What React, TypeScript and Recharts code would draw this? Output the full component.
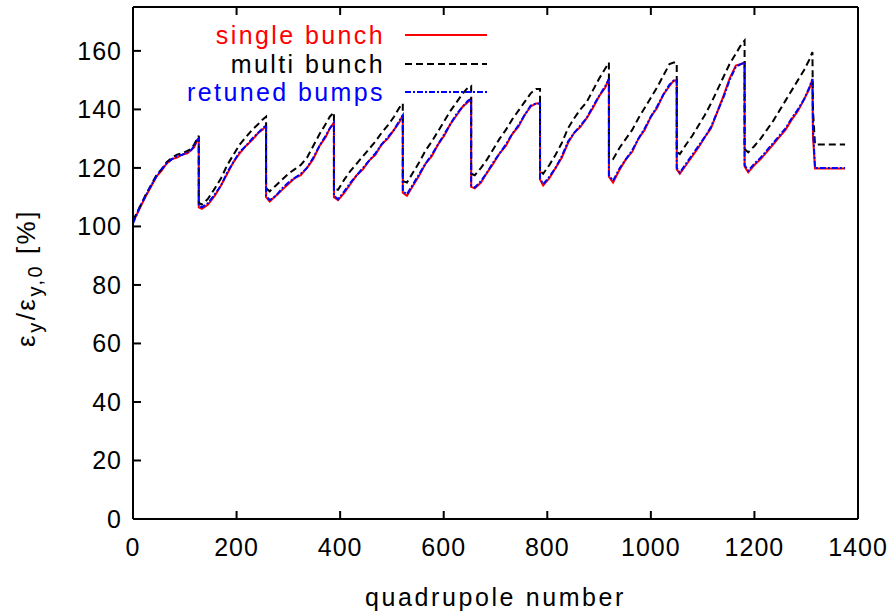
import { LineChart, Line, XAxis, YAxis, Legend } from 'recharts'

const FONT = '"Liberation Sans", Arial, Helvetica, sans-serif'

// quadrupole index along the line; a repeated index is a vertical jump
const quad = [
  0, 7, 14, 25, 33, 45, 55, 65, 75, 85, 95, 105, 112, 118, 124, 127,
  127, 133, 145, 158, 170, 182, 194, 206, 218, 230, 242, 250, 257,
  257, 264, 276, 288, 300, 312, 324, 336, 348, 360, 372, 380, 388,
  388, 396, 408, 420, 432, 444, 456, 468, 480, 492, 504, 514, 521,
  521, 529, 541, 553, 565, 577, 589, 601, 613, 625, 637, 647, 653,
  653, 660, 672, 684, 696, 708, 720, 732, 744, 756, 768, 778, 786,
  786, 792, 804, 816, 828, 840, 852, 864, 876, 888, 900, 912, 919,
  919, 927, 940, 952, 964, 976, 988, 1000, 1012, 1024, 1036, 1044, 1050,
  1050, 1056, 1068, 1080, 1092, 1104, 1116, 1128, 1140, 1152, 1164, 1174, 1181,
  1181, 1188, 1200, 1212, 1224, 1236, 1248, 1260, 1272, 1284, 1296, 1306, 1312,
  1313, 1317, 1375,
]

const singleBunch = [
  101.5, 104, 106.5, 110.5, 113, 117, 119, 121.5, 123, 123.5, 124.5, 125, 126, 127, 129.5, 130,
  106.5, 106, 107.5, 110.5, 114, 118, 122, 125, 127.5, 129.5, 132, 133, 134.5,
  110, 108.5, 110.5, 112.5, 114.5, 116.5, 117.5, 120, 123, 127.5, 130.5, 133.5, 135.5,
  110, 109, 111.5, 114.5, 117.5, 119.5, 122.5, 124.5, 128, 130, 133, 135.5, 138,
  111.5, 110.5, 114, 117.5, 121.5, 124, 128, 131, 135, 138, 141, 142.5, 143.5,
  113.5, 113, 115, 118.5, 121.5, 125, 127.5, 131.5, 134, 138, 141, 142, 142,
  116, 114, 116.5, 120, 123.5, 128.5, 132, 134, 137, 140.5, 144.5, 147.5, 150.4,
  117, 115, 119.5, 123, 125.5, 130, 133, 137.5, 140.5, 145, 148, 149.8, 150,
  119.5, 118, 121, 124, 127, 130.5, 133.5, 139, 144.5, 150.5, 155, 155.5, 156,
  120.5, 118.5, 121, 123, 125.5, 128, 130.5, 133, 136.5, 139.5, 143.5, 147, 150.4,
  131, 119.8, 119.8,
]

const multiBunch = [
  102, 104.5, 107, 111, 113.5, 117.5, 119.5, 122, 123.5, 124.5, 125, 125.8, 126.5, 128, 130, 131,
  108, 107.5, 109.5, 113, 116.5, 121, 124.5, 128, 130.5, 133, 135, 136.5, 137.5,
  113, 112, 114, 116, 118, 119.5, 121, 123.5, 127.5, 131.5, 135, 137.5, 139,
  113, 112.5, 116, 119, 121.5, 124, 126.5, 129, 132, 134.5, 137.5, 140.5, 142,
  115.5, 115, 118.5, 122, 126, 129, 132.5, 136, 139.5, 142.5, 145.5, 147.5, 148,
  118, 117.5, 120, 123, 126.5, 130, 133, 136.5, 139.5, 142.5, 145.5, 147, 147,
  119, 118, 121, 124.5, 128.5, 133.5, 137, 140, 142.5, 146.5, 150.5, 154, 156,
  123.5, 123, 127, 130, 133, 137, 140.5, 144, 147.5, 151.5, 155.5, 156, 156,
  125.5, 124.7, 128, 131, 134.5, 138, 142, 146.5, 151, 155.5, 159, 162, 163.5,
  126.5, 125.3, 127.5, 130, 133, 136, 139.5, 143, 146.5, 150, 153.5, 157, 159.6,
  140, 128, 128,
]

const retunedBumps = [
  101, 104, 107, 110.5, 113.5, 117, 119.5, 121.5, 123, 124, 124.5, 125.3, 126, 127.5, 129.5, 130,
  107, 106.5, 108, 111, 114, 118.5, 122, 125.5, 127.5, 130, 132, 133.5, 134.5,
  110.5, 109, 110.5, 113, 115, 116.5, 118, 120, 123.5, 127.5, 131, 133.5, 135.5,
  110.5, 109.3, 112, 115, 117.5, 120, 122.5, 125, 128, 130.5, 133, 136, 138,
  112, 111, 114.5, 118, 121.5, 124.5, 128, 131.5, 135, 138.5, 141, 143, 143.5,
  114, 113.3, 115.5, 118.5, 122, 125, 128, 131.5, 134.5, 138, 141.3, 142, 142,
  116.5, 114.4, 117, 120, 124, 129, 132, 134.5, 137, 141, 144.5, 148, 150.4,
  117.5, 115.6, 120, 123, 126, 130, 133.5, 137.5, 141, 145, 148.5, 149.8, 150,
  120, 118.4, 121.5, 124.5, 127.5, 130.5, 134, 139, 144, 150, 154.5, 155.5, 156,
  121, 119, 121.5, 123.5, 126, 128.5, 131, 133.5, 137, 140, 143.5, 147.5, 150.4,
  134, 120, 120,
]

const xTicks = [0, 200, 400, 600, 800, 1000, 1200, 1400]
const yTicks = [0, 20, 40, 60, 80, 100, 120, 140, 160]

const rows = quad.map((q, i) => ({
  q,
  single: singleBunch[i],
  multi: multiBunch[i],
  retuned: retunedBumps[i],
}))

const KEY_ORDER = ['single', 'multi', 'retuned']

const DASH: Record<string, string | undefined> = {
  single: undefined,
  multi: '7 4',
  retuned: '6 2 2 2',
}

const tickStyle = { fontSize: 25, fill: '#000', fontFamily: FONT, letterSpacing: 1 }
const blank = () => ''

const LegendBox = ({ payload }: any) => {
  const items = [...(payload || [])].sort(
    (a: any, b: any) => KEY_ORDER.indexOf(a.dataKey) - KEY_ORDER.indexOf(b.dataKey)
  )
  return (
    <div style={{ fontFamily: FONT, fontSize: 25, letterSpacing: 2.4 }}>
      {items.map((entry: any) => (
        <div
          key={entry.value}
          style={{ display: 'flex', alignItems: 'center', justifyContent: 'flex-end', height: 28.5 }}
        >
          <span style={{ color: entry.color, lineHeight: '28px' }}>{entry.value}</span>
          <svg width={82} height={8} style={{ marginLeft: 20 }}>
            <line
              x1={0}
              y1={4}
              x2={82}
              y2={4}
              stroke={entry.color}
              strokeWidth={2}
              strokeDasharray={DASH[entry.dataKey]}
            />
          </svg>
        </div>
      ))}
    </div>
  )
}

const YLabel = () => (
  <text
    x={35}
    y={278}
    transform="rotate(-90 35 278)"
    textAnchor="middle"
    fontSize={26}
    fontFamily={FONT}
    letterSpacing={2.5}
    fill="#000"
  >
    ε<tspan dy={7} fontSize={20}>y</tspan>
    <tspan dy={-7}>/ε</tspan>
    <tspan dy={7} fontSize={20}>y,0</tspan>
    <tspan dy={-7}> [%]</tspan>
  </text>
)

export default function App() {
  return (
    <div style={{ position: 'absolute', left: 0, top: 0, background: '#fff' }}>
      <LineChart
        width={893}
        height={612}
        data={rows}
        margin={{ top: 0, right: 0, bottom: 0, left: 0 }}
      >
        <XAxis
          dataKey="q"
          type="number"
          domain={[0, 1400]}
          ticks={xTicks}
          interval={0}
          height={93}
          stroke="#000"
          strokeWidth={2}
          tickSize={-8}
          tickMargin={27}
          tick={tickStyle}
          label={{
            value: 'quadrupole number',
            position: 'insideBottom',
            offset: 6,
            style: { fontSize: 25, fill: '#000', fontFamily: FONT, letterSpacing: 2.6 },
          }}
        />
        <XAxis
          xAxisId="top"
          orientation="top"
          dataKey="q"
          type="number"
          domain={[0, 1400]}
          ticks={xTicks}
          height={7}
          stroke="#000"
          strokeWidth={2}
          tickSize={-8}
          tickFormatter={blank}
        />
        <YAxis
          type="number"
          domain={[0, 175]}
          ticks={yTicks}
          interval={0}
          width={133}
          stroke="#000"
          strokeWidth={2}
          tickSize={-8}
          tickMargin={19}
          tick={tickStyle}
          label={YLabel}
        />
        <YAxis
          yAxisId="right"
          orientation="right"
          type="number"
          domain={[0, 175]}
          ticks={yTicks}
          width={35}
          stroke="#000"
          strokeWidth={2}
          tickSize={-8}
          tickFormatter={blank}
        />
        <Legend
          layout="vertical"
          align="center"
          verticalAlign="middle"
          content={<LegendBox />}
          wrapperStyle={{ top: 21, left: 'auto', right: 406, width: 'auto', height: 'auto' }}
        />
        <Line
          dataKey="single"
          name="single bunch"
          stroke="#ff0000"
          strokeWidth={2}
          dot={false}
          isAnimationActive={false}
        />
        <Line
          dataKey="multi"
          name="multi bunch"
          stroke="#000000"
          strokeWidth={2}
          strokeDasharray={DASH.multi}
          dot={false}
          isAnimationActive={false}
        />
        <Line
          dataKey="retuned"
          name="retuned bumps"
          stroke="#0000ff"
          strokeWidth={2}
          strokeDasharray={DASH.retuned}
          dot={false}
          isAnimationActive={false}
        />
      </LineChart>
    </div>
  )
}
